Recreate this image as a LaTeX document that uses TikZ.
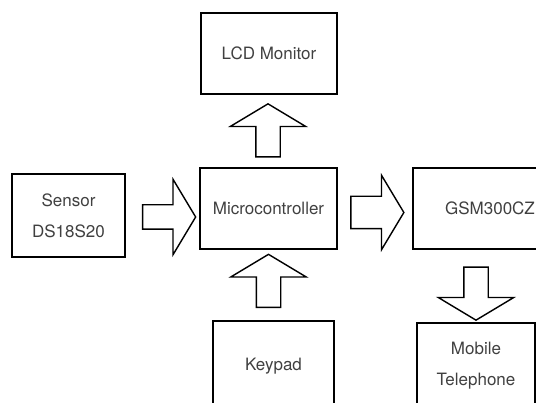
\documentclass[tikz,border=0pt]{standalone}
\usepackage{fontspec}
\setmainfont{TeX Gyre Heros}
\usetikzlibrary{shapes.arrows}

\begin{document}
\begin{tikzpicture}[
    x=1pt, y=-1pt,
    box/.style={rectangle, draw, line width=1.4pt, inner sep=0pt, align=center, text=black!75, font=\fontsize{17}{31}\selectfont},
    bigarrow/.style={single arrow, draw, line width=1.4pt, inner sep=11.5pt, minimum height=53pt, single arrow head extend=25.5pt, single arrow tip angle=118},
]
\useasboundingbox (0,0) rectangle (536,403);
\clip (0,0) rectangle (536,403);

\node[box, minimum width=113pt, minimum height=83pt] (sensor) at (68.5,215.5) {Sensor\\DS18S20};
\node[box, minimum width=137pt, minimum height=81pt] (micro) at (268.5,208.5) {Microcontroller};
\node[box, minimum width=136pt, minimum height=81pt] (lcd) at (269,53.5) {LCD Monitor};
\node[box, minimum width=154pt, minimum height=81pt] (gsm) at (490,208.5) {GSM300CZ};
\node[box, minimum width=121pt, minimum height=90pt] (keypad) at (273.5,366) {Keypad};
\node[box, minimum width=118pt, minimum height=85pt] (mobile) at (476,365.5) {Mobile\\Telephone};

% block arrows between the boxes
\node[bigarrow] (sensor-micro) at (165.5,217) {};
\node[bigarrow, inner sep=15.5pt, single arrow head extend=21pt] (micro-gsm) at (372.5,212.5) {};
\node[bigarrow, shape border rotate=90] (micro-lcd) at (268,134) {};
\node[bigarrow, shape border rotate=90] (keypad-micro) at (268.5,284.5) {};
\node[bigarrow, shape border rotate=270] (gsm-mobile) at (476,290) {};

\end{tikzpicture}
\end{document}
